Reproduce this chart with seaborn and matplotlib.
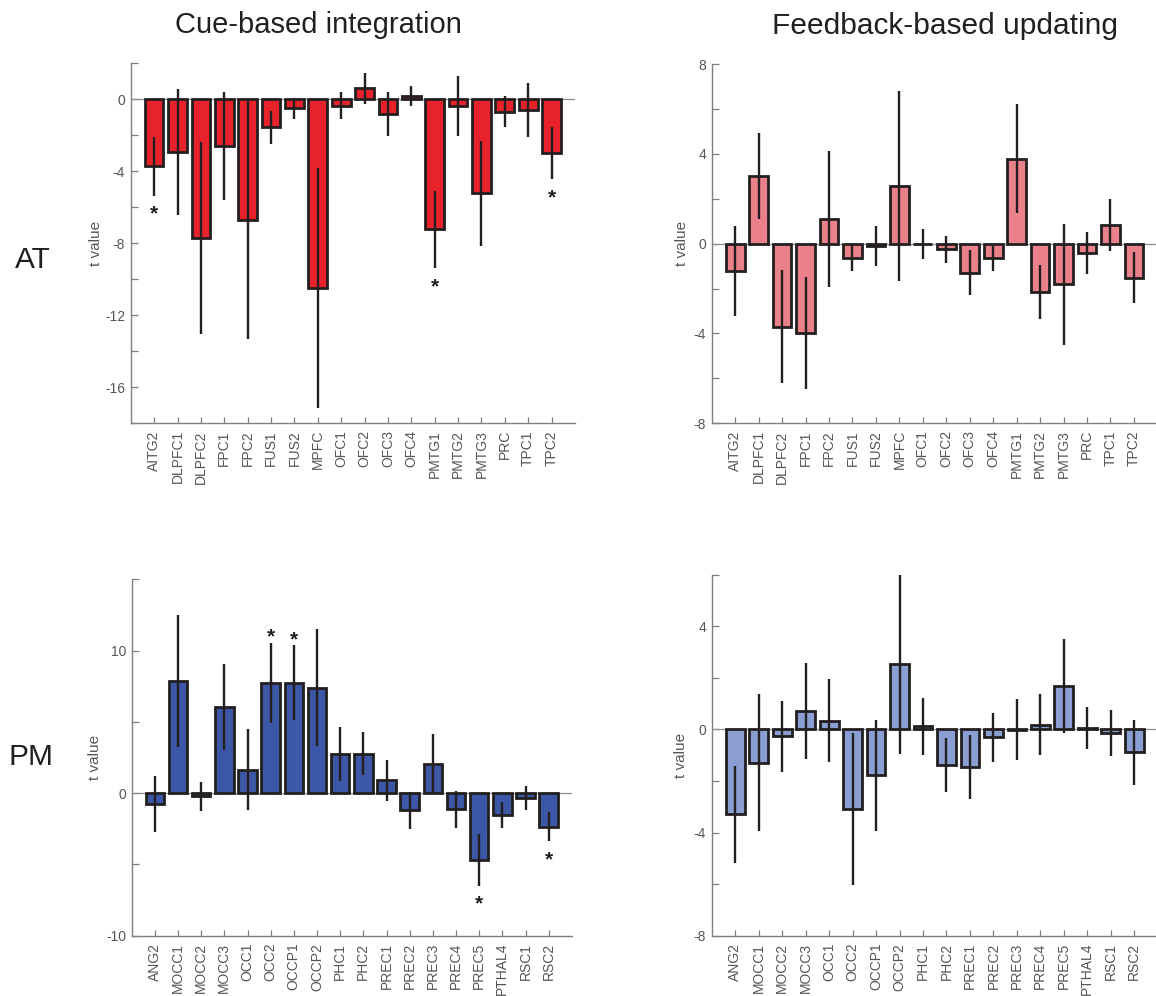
import numpy as np
import pandas as pd
import matplotlib
matplotlib.use("Agg")
import matplotlib.pyplot as plt
from matplotlib.ticker import MultipleLocator
import seaborn as sns

# Regions of interest
at_regions = ["AITG2", "DLPFC1", "DLPFC2", "FPC1", "FPC2", "FUS1", "FUS2", "MPFC",
              "OFC1", "OFC2", "OFC3", "OFC4", "PMTG1", "PMTG2", "PMTG3", "PRC",
              "TPC1", "TPC2"]
pm_regions = ["ANG2", "MOCC1", "MOCC2", "MOCC3", "OCC1", "OCC2", "OCCP1", "OCCP2",
              "PHC1", "PHC2", "PREC1", "PREC2", "PREC3", "PREC4", "PREC5", "PTHAL4",
              "RSC1", "RSC2"]

# AT network, cue-based integration
at_cue_t = [-3.74, -2.93, -7.72, -2.61, -6.69, -1.57, -0.52, -10.48, -0.37, 0.59,
            -0.83, 0.19, -7.24, -0.39, -5.24, -0.69, -0.61, -3.00]
at_cue_err = [1.62, 3.50, 5.35, 3.00, 6.62, 0.90, 0.60, 6.65, 0.74, 0.86,
              1.23, 0.55, 2.16, 1.67, 2.90, 0.84, 1.51, 1.46]
at_cue_sig = ["AITG2", "PMTG1", "TPC2"]

# AT network, feedback-based updating
at_fb_t = [-1.20, 3.02, -3.70, -3.97, 1.10, -0.62, -0.12, 2.58, -0.03, -0.24,
           -1.29, -0.65, 3.79, -2.15, -1.81, -0.41, 0.84, -1.51]
at_fb_err = [2.00, 1.90, 2.52, 2.50, 3.02, 0.60, 0.89, 4.24, 0.67, 0.60,
             1.00, 0.56, 2.41, 1.19, 2.70, 0.94, 1.15, 1.12]
at_fb_sig = []

# PM network, cue-based integration
pm_cue_t = [-0.75, 7.85, -0.23, 6.05, 1.66, 7.73, 7.76, 7.41, 2.76, 2.78,
            0.91, -1.21, 2.08, -1.12, -4.67, -1.52, -0.35, -2.36]
pm_cue_err = [1.96, 4.63, 1.05, 3.03, 2.84, 2.83, 2.62, 4.09, 1.88, 1.52,
              1.43, 1.29, 2.07, 1.30, 1.81, 0.89, 0.84, 1.02]
pm_cue_sig = ["OCC2", "OCCP1", "PREC5", "RSC2"]

# PM network, feedback-based updating
pm_fb_t = [-3.29, -1.29, -0.26, 0.71, 0.34, -3.10, -1.77, 2.53, 0.13, -1.38,
           -1.45, -0.31, -0.01, 0.19, 1.68, 0.06, -0.14, -0.89]
pm_fb_err = [1.87, 2.66, 1.37, 1.85, 1.60, 2.95, 2.15, 3.47, 1.11, 1.05,
             1.25, 0.96, 1.18, 1.18, 1.82, 0.81, 0.88, 1.25]
pm_fb_sig = []

column_titles = ["Cue-based integration", "Feedback-based updating"]
row_labels = ["AT", "PM"]

sns.set_style("ticks")
plt.rcParams["font.family"] = ["Liberation Sans", "DejaVu Sans"]
plt.rcParams["axes.unicode_minus"] = False

INK = "#231f20"
GREY = "#555555"
SPINE = "#7f7f7f"

W, H = 1156, 996
fig = plt.figure(figsize=(W / 100, H / 100), dpi=100)


def draw_panel(rect, regions, t, err, sig, color, ylim, major, minor, label_x):
    ax = fig.add_axes(rect)
    df = pd.DataFrame({"region": regions, "t": t, "err": err})
    ax.axhline(0, color="#8c8c8c", lw=0.9, zorder=1)
    sns.barplot(data=df, x="region", y="t", color=color, saturation=1,
                width=0.8, edgecolor=INK, linewidth=2.0, errorbar=None,
                ax=ax, zorder=2)
    xs = np.arange(len(regions))
    ax.errorbar(xs, df["t"], yerr=df["err"], fmt="none", ecolor=INK,
                elinewidth=1.7, capsize=0, zorder=3)
    # significance stars just beyond the end of the error bar
    for name in sig:
        i = regions.index(name)
        val, e = df["t"][i], df["err"][i]
        fs = 15
        glyph_mid = 0.57 * fs
        gap = 8.6
        if val < 0:
            y_end, dy = val - e, -gap - glyph_mid
        else:
            y_end, dy = val + e, gap - glyph_mid
        ax.annotate("*", xy=(i, y_end), xytext=(0, dy), textcoords="offset points",
                    ha="center", va="baseline", fontsize=fs, fontweight="bold",
                    color=INK)
    ax.set_xlim(-1, 18)
    ax.set_ylim(*ylim)
    ax.yaxis.set_major_locator(MultipleLocator(major))
    ax.yaxis.set_minor_locator(MultipleLocator(minor))
    ax.tick_params(axis="both", which="both", direction="in", colors=SPINE,
                   labelcolor=GREY, labelsize=10, width=0.9)
    ax.tick_params(axis="y", which="both", length=4.8, pad=4)
    ax.tick_params(axis="x", which="both", length=4.2, pad=5)
    ax.set_xlabel("")
    ax.set_ylabel("t value", fontsize=11, color=GREY)
    ax.yaxis.set_label_coords(label_x, 0.5)
    for lab in ax.get_xticklabels():
        lab.set_rotation(90)
    for side in ("top", "right"):
        ax.spines[side].set_visible(False)
    for side in ("left", "bottom"):
        ax.spines[side].set_color(SPINE)
        ax.spines[side].set_linewidth(1.0)
    ax.set_facecolor("none")
    return ax


draw_panel([0.1131, 0.575, 0.3843, 0.3617], at_regions, at_cue_t, at_cue_err,
           at_cue_sig, "#e8222a", (-18, 2), 4, 2, -0.063)
draw_panel([0.6157, 0.575, 0.3855, 0.3607], at_regions, at_fb_t, at_fb_err,
           at_fb_sig, "#ea8089", (-8, 8), 4, 2, -0.052)
draw_panel([0.1139, 0.0605, 0.3808, 0.3578], pm_regions, pm_cue_t, pm_cue_err,
           pm_cue_sig, "#3b57a6", (-10, 15), 10, 5, -0.068)
draw_panel([0.6157, 0.0605, 0.3858, 0.3624], pm_regions, pm_fb_t, pm_fb_err,
           pm_fb_sig, "#8a9ed4", (-8, 6), 4, 2, -0.054)

fig.text(318 / W, 1 - 33 / H, column_titles[0], ha="center", va="baseline",
         fontsize=21, color=INK)
fig.text(945 / W, 1 - 34 / H, column_titles[1], ha="center", va="baseline",
         fontsize=21.5, color=INK)
fig.text(33 / W, 1 - 268 / H, row_labels[0], ha="center", va="baseline",
         fontsize=21.5, color=INK)
fig.text(31 / W, 1 - 765 / H, row_labels[1], ha="center", va="baseline",
         fontsize=21.5, color=INK)

fig.savefig("out.png", dpi=100, facecolor="white")
